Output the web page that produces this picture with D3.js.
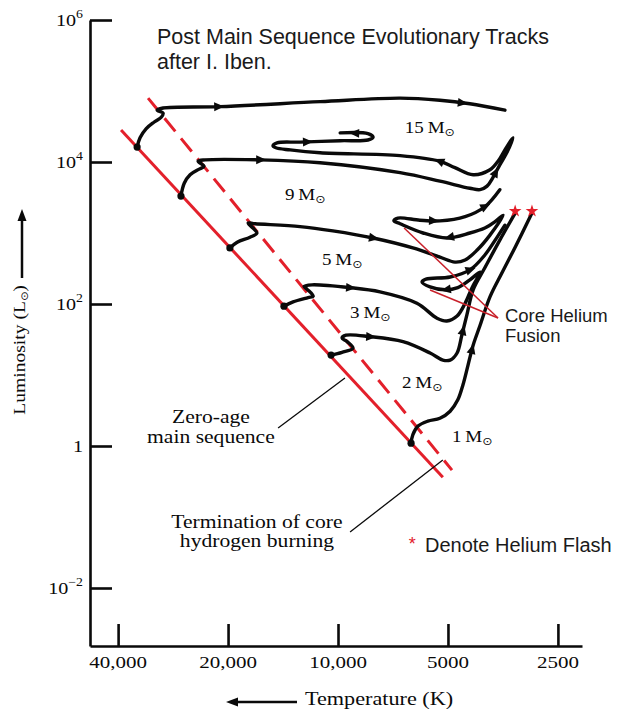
<!DOCTYPE html>
<html><head><meta charset="utf-8">
<script src="https://cdn.jsdelivr.net/npm/d3@7"></script>
<style>body{margin:0;background:#fff}svg{display:block}</style>
</head><body>
<svg id="c" width="623" height="718"></svg>
<script>
// ---------------- DATA (log10 T [K], log10 L [Lsun]) ----------------
const tempTicks = [40000, 20000, 10000, 5000, 2500];
const tempTickLabels = ["40,000", "20,000", "10,000", "5000", "2500"];
const lumTicks = [6, 4, 2, 0, -2];
const lumTickBase = ["10", "10", "10", "1", "10"];
const lumTickExp = ["6", "4", "2", "", "\u22122"];

const zams = [[4.594, 4.45], [3.713, -0.44]];
const tams = [[4.520, 4.90], [3.688, -0.34]];

const massNames = ["15", "9", "5", "3", "2", "1"];
const track15 = [[4.550,4.21],[4.542,4.34],[4.525,4.47],[4.504,4.56],[4.484,4.63],[4.479,4.69],[4.495,4.73],[4.479,4.76],[4.323,4.78],[4.049,4.85],[3.830,4.90],[3.721,4.87],[3.639,4.82],[3.543,4.73]];
const track9 = [[4.430,3.52],[4.421,3.70],[4.405,3.82],[4.380,3.90],[4.367,3.94],[4.383,4.01],[4.364,4.03],[4.213,4.03],[4.049,3.99],[3.830,3.85],[3.721,3.73],[3.639,3.63],[3.611,3.61],[3.592,3.66],[3.576,3.78],[3.557,3.96],[3.537,4.14],[3.521,4.34],[3.543,4.17],[3.562,4.01],[3.584,3.89],[3.630,3.82],[3.680,3.92],[3.721,4.01],[3.830,4.09],[4.049,4.13],[4.131,4.17],[4.170,4.20],[4.178,4.23],[4.167,4.27],[4.104,4.28],[3.994,4.30],[3.918,4.31],[3.904,4.35],[3.918,4.40],[3.994,4.41]];
const track5 = [[4.296,2.79],[4.276,2.87],[4.241,2.94],[4.222,3.00],[4.246,3.14],[4.227,3.13],[4.104,3.09],[4.014,3.03],[3.904,2.93],[3.795,2.79],[3.721,2.66],[3.680,2.59],[3.652,2.62],[3.619,2.76],[3.584,2.97],[3.548,3.25],[3.570,3.16],[3.598,3.07],[3.639,3.00],[3.702,2.93],[3.767,3.00],[3.830,3.13],[3.847,3.17],[3.836,3.21],[3.776,3.18],[3.721,3.17],[3.652,3.23],[3.598,3.37],[3.557,3.61]];
const track3 = [[4.148,1.97],[4.123,2.03],[4.082,2.09],[4.068,2.11],[4.085,2.21],[4.093,2.25],[4.071,2.27],[3.967,2.23],[3.885,2.17],[3.784,2.01],[3.729,1.80],[3.702,1.76],[3.674,1.83],[3.652,2.01],[3.633,2.23],[3.611,2.45],[3.639,2.34],[3.672,2.23],[3.707,2.20],[3.748,2.24],[3.770,2.31],[3.759,2.35],[3.693,2.38],[3.639,2.48],[3.598,2.69],[3.562,2.96],[3.543,3.11]];
const track2 = [[4.019,1.28],[3.989,1.32],[3.959,1.38],[3.975,1.47],[3.989,1.52],[3.978,1.56],[3.912,1.54],[3.822,1.47],[3.748,1.31],[3.713,1.21],[3.693,1.21],[3.674,1.31],[3.661,1.56],[3.647,1.85],[3.630,2.20],[3.598,2.51],[3.557,2.90],[3.515,3.28]];
const track1 = [[3.800,0.04],[3.795,0.16],[3.781,0.28],[3.754,0.35],[3.721,0.39],[3.693,0.49],[3.672,0.65],[3.658,0.86],[3.644,1.14],[3.630,1.42],[3.611,1.70],[3.584,2.10],[3.551,2.44],[3.515,2.80],[3.469,3.28]];

// direction arrows: [track index, logT, logL]
const arrowMarks = [[0,4.328,4.76],[0,3.661,4.83],[1,4.213,4.03],[1,3.721,4.01],[1,4.085,4.28],[1,3.953,4.40],[1,3.570,3.85],[2,3.904,2.93],[2,3.740,3.17],[2,3.693,2.93],[2,3.598,3.37],[3,3.967,2.23],[3,3.702,2.20],[3,3.639,2.48],[4,3.912,1.54],[4,3.666,1.63],[5,3.630,1.35]];
// helium flash at the tips of these tracks
const flashTracks = [4, 5];

// label anchors (logT, logL)
const massLabelPos = [[3.817,4.41],[4.145,3.465],[4.044,2.55],[3.967,1.80],[3.825,0.82],[3.688,0.056]];

// ---------------- DRAWING ----------------
const tracks = [track15, track9, track5, track3, track2, track1];
const svg = d3.select("#c");
const x = d3.scaleLinear().domain([4.679, 3.332]).range([90, 582]);
const y = d3.scaleLinear().domain([6, -2.817]).range([20, 646]);
const serif = "'Liberation Serif','Times New Roman',serif";
const sans = "'Liberation Sans',Arial,sans-serif";
const RED = "#e3202b";
const INK = "#0a0a0a";

function stext(g, px, py, anchor, size, sx) {
  return g.append("text")
    .attr("transform", `translate(${px},${py}) scale(${sx || 1.2},1)`)
    .attr("text-anchor", anchor).attr("font-family", serif)
    .attr("font-size", size).attr("fill", INK);
}
function sun(t, size, dy) {
  t.append("tspan").attr("font-family", "'DejaVu Sans',sans-serif")
    .attr("font-size", size).attr("dy", dy).text("\u2299");
}

// axes
const gx = svg.append("g").attr("transform", "translate(0,646)")
  .call(d3.axisBottom(x).tickValues(tempTicks.map(Math.log10)).tickSize(-22).tickSizeOuter(0).tickFormat(""));
const gy = svg.append("g").attr("transform", "translate(90,0)")
  .call(d3.axisLeft(y).tickValues(lumTicks).tickSize(-22).tickSizeOuter(0).tickFormat(""));
[gx, gy].forEach(g => {
  g.select(".domain").attr("stroke", INK).attr("stroke-width", 2.6);
  g.selectAll(".tick line").attr("stroke", INK).attr("stroke-width", 2.6);
});

tempTicks.forEach((t, i) => {
  stext(svg, x(Math.log10(t)), 668, "middle", 17.5).text(tempTickLabels[i]);
});
lumTicks.forEach((v, i) => {
  const t = stext(svg, 83, y(v) + 6, "end", 17.5, 1.15);
  t.append("tspan").text(lumTickBase[i]);
  if (lumTickExp[i]) t.append("tspan").attr("font-size", 12).attr("dy", -8).text(lumTickExp[i]);
});

// axis titles
const yl = svg.append("text").attr("transform", "translate(25,350) rotate(-90) scale(1.12,1)")
  .attr("text-anchor", "middle").attr("font-family", serif).attr("font-size", 17.5).attr("fill", INK);
yl.append("tspan").text("Luminosity (L");
sun(yl, 10, 3);
yl.append("tspan").attr("dy", -3).text(")");
svg.append("line").attr("x1", 22).attr("y1", 278).attr("x2", 22).attr("y2", 218).attr("stroke", INK).attr("stroke-width", 2.5);
svg.append("path").attr("d", "M22,209 L17.5,221 L26.5,221 Z").attr("fill", INK);

stext(svg, 305, 705, "start", 18.5).text("Temperature (K)");
svg.append("line").attr("x1", 297).attr("y1", 702).attr("x2", 236).attr("y2", 702).attr("stroke", INK).attr("stroke-width", 2.5);
svg.append("path").attr("d", "M226,702 L238,697.5 L238,706.5 Z").attr("fill", INK);

// title
svg.append("text").attr("x", 157).attr("y", 44).attr("font-family", sans).attr("font-size", 21.5).attr("fill", "#1a1a1a")
  .text("Post Main Sequence Evolutionary Tracks");
svg.append("text").attr("x", 157).attr("y", 69).attr("font-family", sans).attr("font-size", 21.5).attr("fill", "#1a1a1a")
  .text("after I. Iben.");

// main sequence lines
const line = d3.line().x(d => x(d[0])).y(d => y(d[1]));
svg.append("path").attr("d", line(zams)).attr("fill", "none").attr("stroke", RED).attr("stroke-width", 3);
svg.append("path").attr("d", line(tams)).attr("fill", "none").attr("stroke", RED).attr("stroke-width", 3)
  .attr("stroke-dasharray", "17,9");

// pointers
function ptr(a, b, color, w) {
  svg.append("line").attr("x1", x(a[0])).attr("y1", y(a[1])).attr("x2", x(b[0])).attr("y2", y(b[1]))
    .attr("stroke", color).attr("stroke-width", w);
}
ptr([4.164, 0.254], [3.981, 0.958], INK, 1.3);
ptr([3.967, -1.211], [3.713, -0.197], INK, 1.3);

// tracks
const curve = d3.line().x(d => x(d[0])).y(d => y(d[1])).curve(d3.curveCatmullRom.alpha(0.5));
svg.append("g").selectAll("path").data(tracks).join("path")
  .attr("d", d => curve(d)).attr("fill", "none").attr("stroke", INK).attr("stroke-width", 3.4)
  .attr("stroke-linejoin", "round").attr("stroke-linecap", "round");
svg.append("g").selectAll("circle").data(tracks).join("circle")
  .attr("cx", d => x(d[0][0])).attr("cy", d => y(d[0][1])).attr("r", 3.6).attr("fill", INK);

// arrows along tracks
arrowMarks.forEach(([ti, lt, ll]) => {
  const pts = tracks[ti].map(d => [x(d[0]), y(d[1])]);
  const p = [x(lt), y(ll)];
  let best = null;
  for (let i = 0; i < pts.length - 1; i++) {
    const a = pts[i], b = pts[i + 1];
    const dx = b[0] - a[0], dy = b[1] - a[1];
    const L2 = dx * dx + dy * dy || 1;
    let u = ((p[0] - a[0]) * dx + (p[1] - a[1]) * dy) / L2;
    u = Math.max(0, Math.min(1, u));
    const q = [a[0] + u * dx, a[1] + u * dy];
    const dist = Math.hypot(q[0] - p[0], q[1] - p[1]);
    if (!best || dist < best.dist) best = {dist, q, ang: Math.atan2(dy, dx) * 180 / Math.PI};
  }
  svg.append("path").attr("d", "M6,0 L-4,-4.5 L-4,4.5 Z").attr("fill", INK)
    .attr("transform", `translate(${best.q[0]},${best.q[1]}) rotate(${best.ang})`);
});

// core helium fusion pointers
ptr([3.819, 3.071], [3.562, 1.803], "#c8202a", 1.5);
ptr([3.748, 2.197], [3.562, 1.803], "#c8202a", 1.5);

// helium flash stars
flashTracks.forEach(ti => {
  const e = tracks[ti][tracks[ti].length - 1];
  svg.append("path").attr("d", d3.symbol(d3.symbolStar, 50)())
    .attr("transform", `translate(${x(e[0])},${y(e[1]) - 2})`).attr("fill", RED);
});

// mass labels
massNames.forEach((m, i) => {
  const p = massLabelPos[i];
  const t = stext(svg, x(p[0]), y(p[1]), "start", 17, 1.12);
  t.append("tspan").text(m + "\u2009M");
  sun(t, 11, 3);
});

// annotations
stext(svg, x(4.348), y(0.324), "middle", 18).text("Zero-age");
stext(svg, x(4.348), y(0.042), "middle", 18).text("main sequence");
stext(svg, x(4.222), y(-1.155), "middle", 18).text("Termination of core");
stext(svg, x(4.222), y(-1.422), "middle", 18).text("hydrogen burning");

svg.append("text").attr("x", x(3.543)).attr("y", y(1.747)).attr("font-family", sans).attr("font-size", 18.5).attr("fill", "#1a1a1a").text("Core Helium");
svg.append("text").attr("x", x(3.543)).attr("y", y(1.465)).attr("font-family", sans).attr("font-size", 18.5).attr("fill", "#1a1a1a").text("Fusion");

svg.append("text").attr("x", x(3.797)).attr("y", y(-1.493) - 2).attr("text-anchor", "middle").attr("font-family", sans).attr("font-size", 18).attr("fill", RED).text("*");
svg.append("text").attr("x", x(3.762)).attr("y", y(-1.493)).attr("font-family", sans).attr("font-size", 20).attr("fill", "#1a1a1a").text("Denote Helium Flash");
</script>
</body></html>
